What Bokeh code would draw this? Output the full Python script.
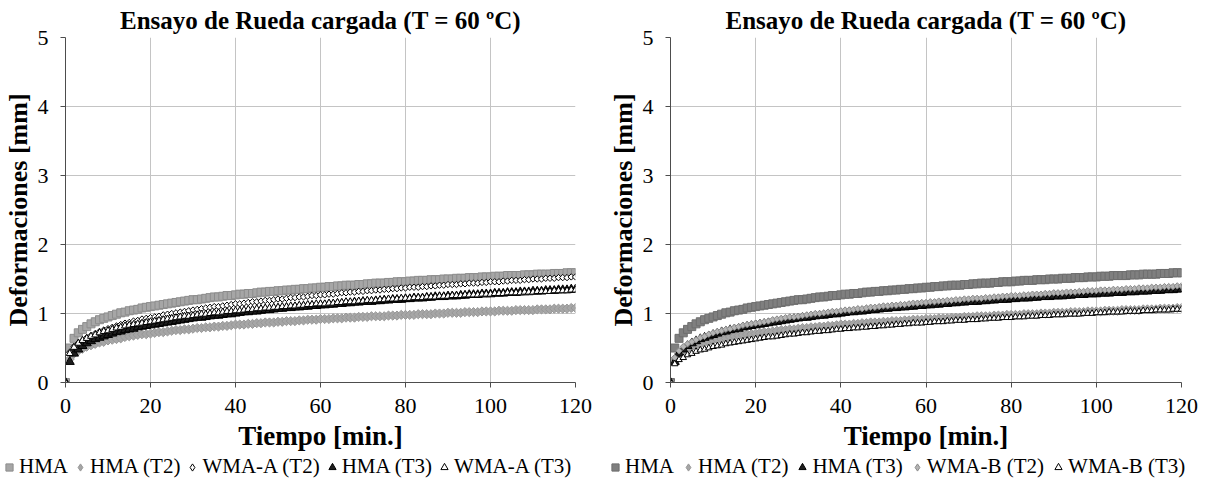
import math
from bokeh.plotting import figure
from bokeh.layouts import row, column
from bokeh.models import Legend, LegendItem
from bokeh.embed import file_html
from bokeh.resources import INLINE

TIME = list(range(0, 121))

HMA = [0, 0.50, 0.64, 0.72, 0.77, 0.81, 0.85, 0.88, 0.91, 0.93, 0.95,
       0.97, 0.99, 1.01, 1.02, 1.04, 1.05, 1.06, 1.08, 1.09, 1.10,
       1.11, 1.12, 1.13, 1.14, 1.15, 1.16, 1.17, 1.18, 1.19, 1.20,
       1.20, 1.21, 1.22, 1.23, 1.24, 1.24, 1.25, 1.26, 1.26, 1.27,
       1.28, 1.28, 1.29, 1.29, 1.30, 1.31, 1.31, 1.32, 1.32, 1.33,
       1.33, 1.34, 1.34, 1.35, 1.35, 1.36, 1.36, 1.37, 1.37, 1.38,
       1.38, 1.39, 1.39, 1.40, 1.40, 1.41, 1.41, 1.41, 1.42, 1.42,
       1.43, 1.43, 1.44, 1.44, 1.44, 1.45, 1.45, 1.46, 1.46, 1.46,
       1.47, 1.47, 1.48, 1.48, 1.48, 1.49, 1.49, 1.49, 1.50, 1.50,
       1.50, 1.51, 1.51, 1.51, 1.52, 1.52, 1.52, 1.53, 1.53, 1.53,
       1.54, 1.54, 1.54, 1.55, 1.55, 1.55, 1.55, 1.56, 1.56, 1.56,
       1.57, 1.57, 1.57, 1.57, 1.58, 1.58, 1.58, 1.59, 1.59, 1.59]

HMA_T2 = [0, 0.34, 0.42, 0.46, 0.49, 0.52, 0.54, 0.56, 0.58, 0.59, 0.61,
          0.62, 0.63, 0.64, 0.66, 0.67, 0.68, 0.69, 0.70, 0.70, 0.71,
          0.72, 0.73, 0.73, 0.74, 0.75, 0.76, 0.76, 0.77, 0.77, 0.78,
          0.79, 0.79, 0.80, 0.80, 0.81, 0.81, 0.82, 0.82, 0.83, 0.84,
          0.84, 0.84, 0.85, 0.85, 0.86, 0.86, 0.87, 0.87, 0.87, 0.88,
          0.88, 0.89, 0.89, 0.89, 0.90, 0.90, 0.91, 0.91, 0.91, 0.92,
          0.92, 0.92, 0.93, 0.93, 0.93, 0.94, 0.94, 0.94, 0.95, 0.95,
          0.95, 0.96, 0.96, 0.96, 0.96, 0.97, 0.97, 0.97, 0.98, 0.98,
          0.98, 0.98, 0.99, 0.99, 0.99, 0.99, 1.00, 1.00, 1.00, 1.01,
          1.01, 1.01, 1.01, 1.02, 1.02, 1.02, 1.02, 1.03, 1.03, 1.03,
          1.03, 1.04, 1.04, 1.04, 1.04, 1.05, 1.05, 1.05, 1.05, 1.05,
          1.06, 1.06, 1.06, 1.06, 1.07, 1.07, 1.07, 1.07, 1.08, 1.08]

HMA_T3 = [0, 0.30, 0.42, 0.48, 0.53, 0.57, 0.60, 0.63, 0.65, 0.67, 0.69,
          0.71, 0.73, 0.74, 0.76, 0.77, 0.78, 0.80, 0.81, 0.82, 0.83,
          0.84, 0.85, 0.86, 0.87, 0.88, 0.89, 0.90, 0.91, 0.92, 0.93,
          0.94, 0.94, 0.95, 0.96, 0.97, 0.97, 0.98, 0.99, 0.99, 1.00,
          1.01, 1.02, 1.02, 1.03, 1.03, 1.04, 1.05, 1.05, 1.06, 1.07,
          1.07, 1.08, 1.08, 1.09, 1.09, 1.10, 1.10, 1.11, 1.11, 1.12,
          1.12, 1.13, 1.13, 1.14, 1.14, 1.15, 1.15, 1.16, 1.16, 1.17,
          1.17, 1.17, 1.18, 1.18, 1.19, 1.19, 1.20, 1.20, 1.20, 1.21,
          1.21, 1.22, 1.22, 1.22, 1.23, 1.23, 1.24, 1.24, 1.24, 1.25,
          1.25, 1.25, 1.26, 1.26, 1.27, 1.27, 1.27, 1.28, 1.28, 1.28,
          1.29, 1.29, 1.29, 1.30, 1.30, 1.30, 1.31, 1.31, 1.31, 1.32,
          1.32, 1.32, 1.33, 1.33, 1.33, 1.34, 1.34, 1.34, 1.35, 1.35]

WMA_A_T2 = [0, 0.44, 0.52, 0.57, 0.61, 0.65, 0.68, 0.71, 0.74, 0.76, 0.78,
            0.80, 0.82, 0.84, 0.86, 0.87, 0.89, 0.90, 0.92, 0.93, 0.94,
            0.95, 0.96, 0.98, 0.99, 1.00, 1.01, 1.02, 1.03, 1.04, 1.05,
            1.06, 1.07, 1.08, 1.09, 1.10, 1.10, 1.11, 1.12, 1.13, 1.14,
            1.14, 1.15, 1.16, 1.17, 1.17, 1.18, 1.19, 1.19, 1.20, 1.21,
            1.21, 1.22, 1.23, 1.23, 1.24, 1.24, 1.25, 1.26, 1.26, 1.27,
            1.27, 1.28, 1.28, 1.29, 1.30, 1.30, 1.31, 1.31, 1.32, 1.32,
            1.33, 1.33, 1.34, 1.34, 1.35, 1.35, 1.36, 1.36, 1.37, 1.37,
            1.38, 1.38, 1.38, 1.39, 1.39, 1.40, 1.40, 1.41, 1.41, 1.42,
            1.42, 1.42, 1.43, 1.43, 1.44, 1.44, 1.44, 1.45, 1.45, 1.46,
            1.46, 1.46, 1.47, 1.47, 1.48, 1.48, 1.48, 1.49, 1.49, 1.50,
            1.50, 1.50, 1.51, 1.51, 1.51, 1.52, 1.52, 1.52, 1.53, 1.53]

WMA_A_T3 = [0, 0.42, 0.51, 0.57, 0.61, 0.64, 0.67, 0.69, 0.72, 0.74, 0.75,
            0.77, 0.79, 0.80, 0.82, 0.83, 0.84, 0.85, 0.86, 0.87, 0.88,
            0.89, 0.90, 0.91, 0.92, 0.93, 0.94, 0.95, 0.96, 0.96, 0.97,
            0.98, 0.99, 0.99, 1.00, 1.01, 1.01, 1.02, 1.03, 1.03, 1.04,
            1.04, 1.05, 1.06, 1.06, 1.07, 1.07, 1.08, 1.08, 1.09, 1.09,
            1.10, 1.10, 1.11, 1.11, 1.12, 1.12, 1.13, 1.13, 1.14, 1.14,
            1.14, 1.15, 1.15, 1.16, 1.16, 1.17, 1.17, 1.17, 1.18, 1.18,
            1.19, 1.19, 1.19, 1.20, 1.20, 1.21, 1.21, 1.21, 1.22, 1.22,
            1.22, 1.23, 1.23, 1.23, 1.24, 1.24, 1.24, 1.25, 1.25, 1.25,
            1.26, 1.26, 1.26, 1.27, 1.27, 1.27, 1.27, 1.28, 1.28, 1.28,
            1.29, 1.29, 1.29, 1.30, 1.30, 1.30, 1.30, 1.31, 1.31, 1.31,
            1.32, 1.32, 1.32, 1.32, 1.33, 1.33, 1.33, 1.33, 1.34, 1.34]

WMA_B_T2 = [0, 0.36, 0.46, 0.52, 0.56, 0.59, 0.62, 0.65, 0.67, 0.70, 0.72,
            0.74, 0.75, 0.77, 0.78, 0.80, 0.81, 0.83, 0.84, 0.85, 0.86,
            0.87, 0.88, 0.89, 0.91, 0.92, 0.93, 0.94, 0.95, 0.95, 0.96,
            0.97, 0.98, 0.99, 1.00, 1.00, 1.01, 1.02, 1.03, 1.03, 1.04,
            1.05, 1.05, 1.06, 1.07, 1.07, 1.08, 1.09, 1.09, 1.10, 1.11,
            1.11, 1.12, 1.12, 1.13, 1.13, 1.14, 1.15, 1.15, 1.16, 1.16,
            1.17, 1.17, 1.18, 1.18, 1.19, 1.19, 1.20, 1.20, 1.21, 1.21,
            1.22, 1.22, 1.22, 1.23, 1.23, 1.24, 1.24, 1.25, 1.25, 1.26,
            1.26, 1.26, 1.27, 1.27, 1.28, 1.28, 1.28, 1.29, 1.29, 1.30,
            1.30, 1.30, 1.31, 1.31, 1.31, 1.32, 1.32, 1.33, 1.33, 1.33,
            1.34, 1.34, 1.34, 1.35, 1.35, 1.35, 1.36, 1.36, 1.36, 1.37,
            1.37, 1.37, 1.38, 1.38, 1.38, 1.39, 1.39, 1.39, 1.40, 1.40]

WMA_B_T3 = [0, 0.27, 0.33, 0.36, 0.40, 0.42, 0.45, 0.47, 0.48, 0.50, 0.52,
            0.53, 0.54, 0.56, 0.57, 0.58, 0.59, 0.60, 0.61, 0.62, 0.63,
            0.64, 0.65, 0.66, 0.66, 0.67, 0.68, 0.69, 0.70, 0.70, 0.71,
            0.72, 0.72, 0.73, 0.74, 0.74, 0.75, 0.75, 0.76, 0.77, 0.77,
            0.78, 0.78, 0.79, 0.79, 0.80, 0.80, 0.81, 0.81, 0.82, 0.82,
            0.83, 0.83, 0.84, 0.84, 0.85, 0.85, 0.86, 0.86, 0.86, 0.87,
            0.87, 0.88, 0.88, 0.88, 0.89, 0.89, 0.90, 0.90, 0.90, 0.91,
            0.91, 0.91, 0.92, 0.92, 0.93, 0.93, 0.93, 0.94, 0.94, 0.94,
            0.95, 0.95, 0.95, 0.96, 0.96, 0.96, 0.97, 0.97, 0.97, 0.98,
            0.98, 0.98, 0.99, 0.99, 0.99, 0.99, 1.00, 1.00, 1.00, 1.01,
            1.01, 1.01, 1.02, 1.02, 1.02, 1.02, 1.03, 1.03, 1.03, 1.03,
            1.04, 1.04, 1.04, 1.05, 1.05, 1.05, 1.05, 1.06, 1.06, 1.06]

X_TICKS = [0, 20, 40, 60, 80, 100, 120]
Y_TICKS = [0, 1, 2, 3, 4, 5]
TITLE = "Ensayo de Rueda cargada (T = 60 ºC)"
X_LABEL = "Tiempo [min.]"
Y_LABEL = "Deformaciones [mm]"

FONT = "Liberation Serif"
D45 = math.pi / 4

LEFT_SERIES = [
    ("HMA", HMA, dict(marker="square", size=8, fill_color="#a6a6a6", line_color="#8c8c8c", angle=0)),
    ("HMA (T2)", HMA_T2, dict(marker="square", size=6.5, fill_color="#a6a6a6", line_color="#979797", angle=D45)),
    ("WMA-A (T2)", WMA_A_T2, dict(marker="square", size=4.5, fill_color="white", line_color="#000000", angle=D45)),
    ("HMA (T3)", HMA_T3, dict(marker="triangle", size=9, fill_color="#1e1e1e", line_color="#000000", angle=0)),
    ("WMA-A (T3)", WMA_A_T3, dict(marker="triangle", size=7, fill_color="white", line_color="#000000", angle=0)),
]

RIGHT_SERIES = [
    ("HMA", HMA, dict(marker="square", size=8, fill_color="#7f7f7f", line_color="#6e6e6e", angle=0)),
    ("HMA (T2)", HMA_T2, dict(marker="square", size=6.5, fill_color="#a6a6a6", line_color="#979797", angle=D45)),
    ("HMA (T3)", HMA_T3, dict(marker="triangle", size=9, fill_color="#1e1e1e", line_color="#000000", angle=0)),
    ("WMA-B (T2)", WMA_B_T2, dict(marker="square", size=4.5, fill_color="#b4b4b4", line_color="#8a8a8a", angle=D45)),
    ("WMA-B (T3)", WMA_B_T3, dict(marker="triangle", size=6.5, fill_color="white", line_color="#000000", angle=0)),
]


def make_panel(series, border_left, frame_w, border_right):
    p = figure(frame_width=frame_w, frame_height=345, x_range=(0, 120), y_range=(0, 5),
               output_backend="svg", toolbar_location=None,
               min_border_left=border_left, min_border_right=border_right,
               min_border_top=0, min_border_bottom=0, title=TITLE)
    p.title.text_font = FONT
    p.title.text_font_size = "25px"
    p.title.text_font_style = "bold"
    p.title.align = "center"
    p.title.standoff = 8
    p.title.text_color = "#000000"
    p.outline_line_color = None
    p.background_fill_color = "white"
    p.border_fill_color = "white"

    p.xaxis.ticker = X_TICKS
    p.yaxis.ticker = Y_TICKS
    p.xaxis.axis_label = X_LABEL
    p.yaxis.axis_label = Y_LABEL
    for ax in (p.xaxis, p.yaxis):
        ax.axis_label_text_font = FONT
        ax.axis_label_text_font_style = "bold"
        ax.axis_label_text_color = "#000000"
        ax.major_label_text_font = FONT
        ax.major_label_text_font_size = "22px"
        ax.major_label_text_color = "#000000"
        ax.axis_line_color = "#4d4d4d"
        ax.major_tick_line_color = "#4d4d4d"
        ax.major_tick_out = 5
        ax.major_tick_in = 0
        ax.minor_tick_line_color = None
    p.xaxis.axis_label_text_font_size = "27px"
    p.yaxis.axis_label_text_font_size = "26px"
    p.xaxis.major_label_standoff = 11
    p.xaxis.axis_label_standoff = 5
    p.yaxis.major_label_standoff = 12
    p.yaxis.axis_label_standoff = 2
    p.xgrid.grid_line_color = "#c4c4c4"
    p.ygrid.grid_line_color = "#c4c4c4"

    for label, vals, style in series:
        p.scatter(TIME, vals, line_width=1, **style)
    return p


def make_legend(series, legend_x, spacing):
    # legend strip: the series are attached (outside the visible range) only
    # so that the legend can draw each series' marker
    lp = figure(frame_width=598, frame_height=28, output_backend="svg",
                toolbar_location=None, x_axis_location=None, y_axis_location=None,
                min_border_left=0, min_border_right=0, min_border_top=0,
                min_border_bottom=0, x_range=(0, 120), y_range=(10, 11))
    lp.grid.grid_line_color = None
    lp.outline_line_color = None
    lp.background_fill_color = "white"
    items = []
    for label, vals, style in series:
        st = dict(style)
        if st["angle"] != 0:
            st["marker"] = "diamond"
            st["angle"] = 0
        r = lp.scatter(TIME, vals, line_width=1, **st)
        items.append(LegendItem(label=label, renderers=[r]))
    legend = Legend(items=items, orientation="horizontal", location=(legend_x, 2),
                    label_text_font=FONT, label_text_font_size="21px",
                    label_text_color="#000000",
                    glyph_width=18, glyph_height=22, label_standoff=1,
                    spacing=spacing, padding=0, margin=0,
                    border_line_color=None, background_fill_alpha=0)
    lp.add_layout(legend, "center")
    return lp


left = make_panel(LEFT_SERIES, 58, 510, 30)
right = make_panel(RIGHT_SERIES, 64, 511, 23)
leg_left = make_legend(LEFT_SERIES, 0, 3)
leg_right = make_legend(RIGHT_SERIES, 8, 5)

layout = column(row(left, right), row(leg_left, leg_right))
open("out.html", "w").write(file_html(layout, INLINE))
